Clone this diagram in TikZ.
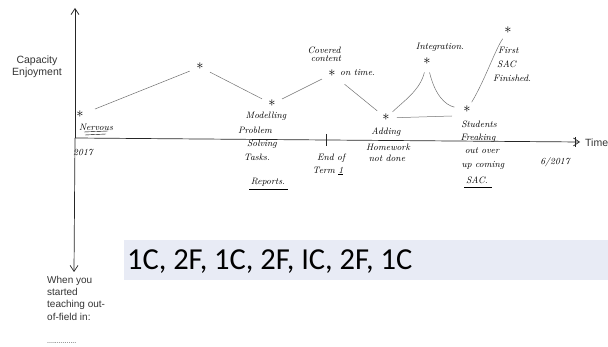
\documentclass[tikz,border=0pt]{standalone}
\usepackage{fontspec}
\newfontfamily\arialfont{Liberation Sans}
\newfontfamily\calfont{Carlito}
\usetikzlibrary{arrows.meta}
\begin{document}
\begin{tikzpicture}[x=1pt,y=-1pt,
  axis/.style={line width=0.7pt,draw=black!85},
  link/.style={line width=0.5pt,draw=black!55,shorten <=7pt,shorten >=7pt},
  starmark/.style={inner sep=0pt,text height=5pt,text depth=0pt,font=\fontsize{15}{15}\selectfont},
  hand/.style={inner sep=0pt,font=\fontsize{9.3}{10}\selectfont\itshape,text=black},
  sans/.style={inner sep=0pt,font=\arialfont\fontsize{10.5}{12.5}\selectfont,text=black!80,align=left},
  tip/.style={-{Straight Barb[length=6pt,width=8pt]}}]
\useasboundingbox (0,0) rectangle (608,347);
% axes
\coordinate (origin) at (75,138);
\coordinate (ytop) at (75,8);
\coordinate (ybot) at (74,272);
\coordinate (xend) at (580,142);
\draw[axis,tip] (origin) -- (ytop);
\draw[axis,tip] (origin) -- (ybot);
\draw[axis,tip] (origin) -- (xend);
\coordinate (tickA) at (326,134);
\coordinate (tickB) at (326,146);
\draw[axis,line width=0.5pt] (tickA) -- (tickB);
\coordinate (tickC) at (575,137);
\coordinate (tickD) at (575,147);
\draw[axis,line width=0.5pt] (tickC) -- (tickD);
% axis labels
\node[sans,anchor=west] (time) at (585,143) {Time};
\node[sans,align=center] (cap) at (37,67) {Capacity\\Enjoyment};
\node[sans,anchor=north west,align=left,font=\arialfont\fontsize{10}{12.2}\selectfont] (when) at (47,276) {When you\\started\\teaching out-\\of-field in:};
\node[sans,anchor=west,font=\arialfont\fontsize{7}{8}\selectfont] (dots) at (47,343) {...............};
% stars
\node[starmark] (s1) at (80,115) {$\ast$};
\node[starmark] (s2) at (200,67) {$\ast$};
\node[starmark] (s3) at (272,104) {$\ast$};
\node[starmark] (s4) at (332,74) {$\ast$};
\node[starmark] (s5) at (386,118) {$\ast$};
\node[starmark] (s6) at (427,62) {$\ast$};
\node[starmark] (s7) at (467,110) {$\ast$};
\node[starmark] (s8) at (508,31) {$\ast$};
% connectors
\draw[link,shorten <=12pt] (s1) -- (s2);
\draw[link] (s2) -- (s3);
\draw[link] (s3) -- (s4);
\draw[link,shorten <=12pt] (s4) -- (s5);
\draw[link,shorten <=5pt,shorten >=8pt] (s5) .. controls (405,100) and (420,90) .. (s6);
\draw[link,shorten <=8pt,shorten >=9pt] (s6) .. controls (435,95) and (445,105) .. (s7);
\coordinate (base) at (452,116);
\draw[link,shorten >=0pt] (s5) -- (base);
\draw[link,shorten <=6pt,shorten >=6pt] (s7) .. controls (485,80) and (495,50) .. (s8);
% handwritten labels
\node[hand] (nervous) at (96,127) {Nervous};
\coordinate (n1) at (84,132); \coordinate (n2) at (108,131);
\coordinate (n3) at (85,135); \coordinate (n4) at (106,134);
\draw[line width=0.4pt] (n1) -- (n2) (n3) -- (n4);
\node[hand] (y2017) at (83,153) {2017};
\node[hand] (modelling) at (266,116) {Modelling};
\node[hand,align=center] (problem) at (255,130) {Problem};
\node[hand] (solving) at (262,144) {Solving};
\node[hand] (tasks) at (257,157) {Tasks.};
\node[hand] (reports) at (268,182) {Reports.};
\coordinate (r1) at (249,189); \coordinate (r2) at (288,189);
\draw[line width=0.4pt] (r1) -- (r2);
\node[hand] (endof) at (331,158) {End of};
\node[hand] (term) at (328,171) {Term \underline{1}};
\node[hand] (covered) at (324,50) {Covered};
\node[hand] (content) at (326,59) {content};
\node[hand,anchor=west] (ontime) at (340,73) {on time.};
\node[hand] (adding) at (386,132) {Adding};
\node[hand] (homework) at (388,147) {Homework};
\node[hand] (notdone) at (387,158) {not done};
\node[hand] (integration) at (440,47) {Integration.};
\node[hand,anchor=west] (first) at (498,50) {First};
\node[hand,anchor=west] (sac1) at (497,64) {SAC};
\node[hand,anchor=west] (finished) at (493,78) {Finished.};
\node[hand] (students) at (479,124) {Students};
\node[hand] (freaking) at (478,138) {Freaking};
\node[hand] (outover) at (482,151) {out over};
\node[hand] (upcoming) at (483,165) {up coming};
\node[hand] (sac2) at (477,180) {SAC.};
\coordinate (u1) at (464,187); \coordinate (u2) at (492,187);
\draw[line width=0.4pt] (u1) -- (u2);
\node[hand] (date) at (555,162) {6/2017};
% box
\fill[fill={rgb,255:red,232;green,235;blue,245}] (124,240) rectangle (608,280);
\node[inner sep=0pt,anchor=base west,font=\calfont\fontsize{30.5}{32}\selectfont] (codes) at (127,270) {1C, 2F, 1C, 2F, IC, 2F, 1C};
\end{tikzpicture}
\end{document}
